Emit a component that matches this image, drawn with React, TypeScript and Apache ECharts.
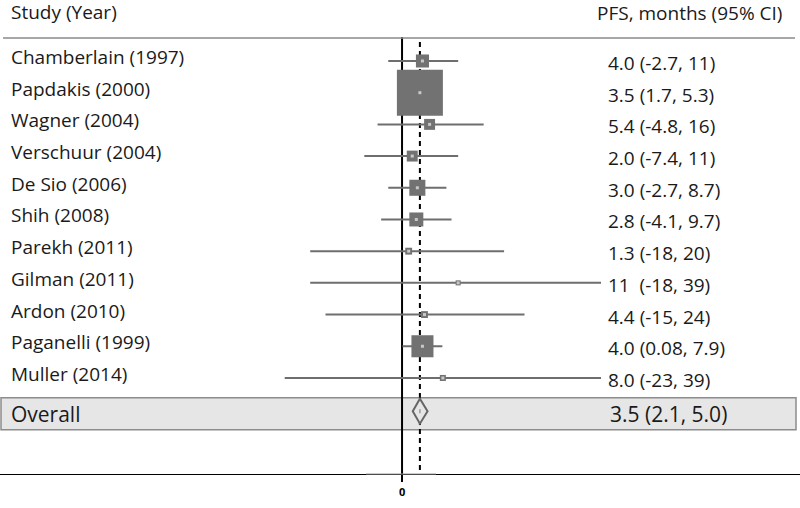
import React, { useEffect, useRef } from "react";
import * as echarts from "echarts";

const studies = [
  "Chamberlain (1997)",
  "Papdakis (2000)",
  "Wagner (2004)",
  "Verschuur (2004)",
  "De Sio (2006)",
  "Shih (2008)",
  "Parekh (2011)",
  "Gilman (2011)",
  "Ardon (2010)",
  "Paganelli (1999)",
  "Muller (2014)",
];
const estimates = [4.0, 3.5, 5.4, 2.0, 3.0, 2.8, 1.3, 11, 4.4, 4.0, 8.0];
const lowerCI = [-2.7, 1.7, -4.8, -7.4, -2.7, -4.1, -18, -18, -15, 0.08, -23];
const upperCI = [11, 5.3, 16, 11, 8.7, 9.7, 20, 39, 24, 7.9, 39];
const weights = [4.7, 58.4, 3.3, 3.3, 7.1, 5.4, 1.3, 0.7, 1.3, 13.4, 1.0];
const ciLabels = [
  "4.0 (-2.7, 11)",
  "3.5 (1.7, 5.3)",
  "5.4 (-4.8, 16)",
  "2.0 (-7.4, 11)",
  "3.0 (-2.7, 8.7)",
  "2.8 (-4.1, 9.7)",
  "1.3 (-18, 20)",
  "11  (-18, 39)",
  "4.4 (-15, 24)",
  "4.0 (0.08, 7.9)",
  "8.0 (-23, 39)",
];
const overallLabel = "Overall";
const overallEstimate = 3.5;
const overallLower = 2.1;
const overallUpper = 5.0;
const overallCILabel = "3.5 (2.1, 5.0)";
const xTickValues = [0];
const headerLeft = "Study (Year)";
const headerRight = "PFS, months (95% CI)";

const FONT = "'Open Sans', 'Noto Sans', sans-serif";

export default function App() {
  const ref = useRef<HTMLDivElement>(null);

  useEffect(() => {
    if (!ref.current) return;
    const chart = echarts.init(ref.current, null, { renderer: "svg" });
    const maxW = Math.max(...weights);
    const overallRow = studies.length;

    const studyData = studies.map((_, i) => [estimates[i], lowerCI[i], upperCI[i], weights[i], i]);

    const option: any = {
      animation: false,
      backgroundColor: "#ffffff",
      grid: { left: 0, right: 0, top: 0, bottom: 34, containLabel: false },
      xAxis: {
        type: "value",
        min: -78.8,
        max: 78.0,
        position: "bottom",
        axisLine: { show: true, onZero: false, lineStyle: { color: "#000", width: 1 } },
        axisTick: {
          show: true,
          customValues: xTickValues,
          length: 8,
          lineStyle: { color: "#000", width: 2 },
        },
        axisLabel: {
          show: true,
          customValues: xTickValues,
          fontSize: 11,
          fontWeight: "bold",
          color: "#000",
          margin: 12,
          fontFamily: FONT,
        },
        splitLine: { show: false },
      },
      yAxis: {
        type: "value",
        inverse: true,
        min: -1.924,
        max: 13.03,
        show: false,
      },
      graphic: [
        {
          type: "text",
          left: 11,
          top: 2,
          z: 10,
          style: { text: headerLeft, font: `19px ${FONT}`, fill: "#1a1a1a" },
        },
        {
          type: "text",
          left: 597,
          top: 3,
          z: 10,
          style: { text: headerRight, font: `19px ${FONT}`, fill: "#1a1a1a" },
        },
        {
          type: "line",
          z: 10,
          shape: { x1: 3, y1: 38, x2: 795, y2: 38 },
          style: { stroke: "#8a8a8a", lineWidth: 1.5 },
        },
        {
          type: "line",
          z: 10,
          shape: { x1: 366, y1: 474, x2: 436, y2: 474 },
          style: { stroke: "#9a9a9a", lineWidth: 1.2 },
        },
      ],
      series: [
        {
          type: "custom",
          z: 1,
          coordinateSystem: "cartesian2d",
          data: [[overallEstimate, overallRow]],
          renderItem: (params: any, api: any) => {
            const p = api.coord([0, api.value(1)]);
            const y = p[1];
            return {
              type: "group",
              children: [
                {
                  type: "rect",
                  shape: { x: 1, y: y - 12, width: 795, height: 32 },
                  style: { fill: "#e6e6e6", stroke: "#8c8c8c", lineWidth: 1.5 },
                },
                {
                  type: "text",
                  style: {
                    text: overallLabel,
                    x: 11,
                    y: y + 4,
                    font: `21px ${FONT}`,
                    fill: "#1a1a1a",
                    verticalAlign: "middle",
                  },
                },
                {
                  type: "text",
                  style: {
                    text: overallCILabel,
                    x: 610,
                    y: y + 4,
                    font: `21px ${FONT}`,
                    fill: "#1a1a1a",
                    verticalAlign: "middle",
                  },
                },
              ],
            };
          },
        },
        {
          type: "line",
          z: 2,
          symbol: "none",
          data: [
            [0, -0.757],
            [0, 13.28],
          ],
          lineStyle: { color: "#000", width: 2 },
        },
        {
          type: "line",
          z: 2,
          symbol: "none",
          data: [
            [overallEstimate, -0.6],
            [overallEstimate, 13.03],
          ],
          lineStyle: { color: "#000", width: 2, type: [5, 4] },
        },
        {
          type: "custom",
          z: 3,
          coordinateSystem: "cartesian2d",
          data: studyData,
          renderItem: (params: any, api: any) => {
            const est = api.value(0);
            const lo = api.value(1);
            const hi = api.value(2);
            const w = api.value(3);
            const row = api.value(4);
            const pe = api.coord([est, row]);
            const pl = api.coord([lo, row]);
            const ph = api.coord([hi, row]);
            const y = pe[1];
            const s = 46 * Math.sqrt(w / maxW);
            const idx = params.dataIndex;
            return {
              type: "group",
              children: [
                {
                  type: "line",
                  shape: { x1: pl[0], y1: y, x2: ph[0], y2: y },
                  style: { stroke: "#6e6e6e", lineWidth: 2 },
                },
                {
                  type: "rect",
                  shape: { x: pe[0] - s / 2, y: y - s / 2, width: s, height: s },
                  style: { fill: "#727272" },
                },
                {
                  type: "rect",
                  shape: { x: pe[0] - 1.5, y: y - 1.5, width: 3, height: 3 },
                  style: { fill: "#c8c8c8" },
                },
                {
                  type: "text",
                  style: {
                    text: studies[idx],
                    x: 11,
                    y: y - 4,
                    font: `19px ${FONT}`,
                    fill: "#1a1a1a",
                    verticalAlign: "middle",
                  },
                },
                {
                  type: "text",
                  style: {
                    text: ciLabels[idx],
                    x: 608,
                    y: y + 2,
                    font: `19px ${FONT}`,
                    fill: "#1a1a1a",
                    verticalAlign: "middle",
                  },
                },
              ],
            };
          },
        },
        {
          type: "custom",
          z: 4,
          coordinateSystem: "cartesian2d",
          data: [[overallEstimate, overallLower, overallUpper, overallRow]],
          renderItem: (params: any, api: any) => {
            const row = api.value(3);
            const pe = api.coord([api.value(0), row]);
            const pl = api.coord([api.value(1), row]);
            const ph = api.coord([api.value(2), row]);
            const y = pe[1] + 1.5;
            return {
              type: "group",
              children: [
                {
                  type: "polygon",
                  shape: {
                    points: [
                      [pl[0], y],
                      [pe[0], y - 12.5],
                      [ph[0], y],
                      [pe[0], y + 12.5],
                    ],
                  },
                  style: { fill: "#e6e6e6", stroke: "#666", lineWidth: 2 },
                },
                {
                  type: "line",
                  shape: { x1: pe[0], y1: y - 2, x2: pe[0], y2: y + 2 },
                  style: { stroke: "#999", lineWidth: 1.5 },
                },
              ],
            };
          },
        },
      ],
    };

    chart.setOption(option);
    return () => chart.dispose();
  }, []);

  return (
    <div
      ref={ref}
      style={{ position: "fixed", left: 0, top: 0, width: 800, height: 508 }}
    />
  );
}
